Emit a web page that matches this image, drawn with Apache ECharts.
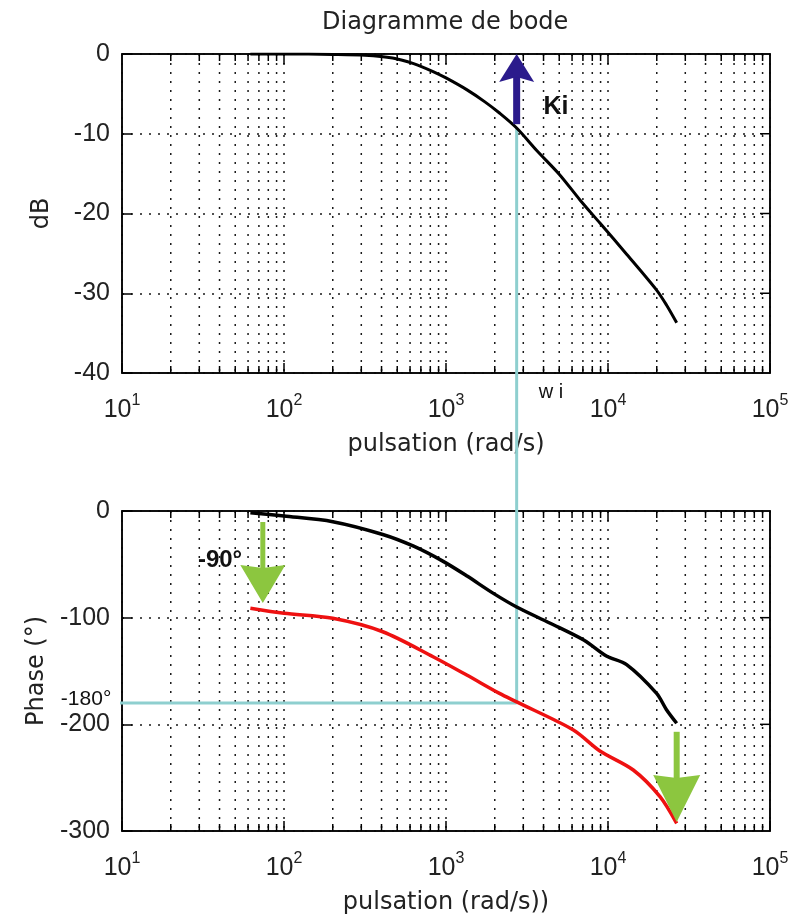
<!DOCTYPE html>
<html><head><meta charset="utf-8">
<script src="https://cdn.jsdelivr.net/npm/echarts@6/dist/echarts.min.js"></script>
<style>html,body{margin:0;padding:0;background:#fff}#c{width:792px;height:918px}</style>
</head><body><div id="c"></div>
<script>
// ---------- data ----------
const freqMag = [62, 100, 200, 316, 468, 631, 832, 1000, 1349, 1738, 2138, 2730, 3631, 5012, 6714, 8913, 13030, 19953, 23010, 26546];
const magDb   = [0, 0, -0.05, -0.15, -0.5, -1.2, -2.2, -3.0, -4.5, -6.0, -7.4, -9.28, -12.1, -15.1, -18.3, -21.2, -25.1, -29.6, -31.5, -33.7];

const freqPhBlack = [62, 100, 200, 407, 631, 955, 1349, 1950, 2730, 4365, 7079, 9772, 13030, 19953, 22909, 26546];
const phaseBlack  = [-1.6, -4.7, -10, -22, -33, -47, -61, -77, -90, -105, -121, -136, -144, -171, -186, -199];

const freqPhRed = [62, 100, 200, 407, 832, 1343, 2138, 2730, 6110, 8913, 14320, 20940, 26546];
const phaseRed  = [-91.2, -95.9, -100.6, -113.2, -136.6, -153.8, -171, -179, -205.3, -225, -242.8, -267.8, -292.8];

const xTickExponents = [1, 2, 3, 4, 5];
const magTicks = [0, -10, -20, -30, -40];
const phaseTicks = [0, -100, -200, -300];
const minorMultipliers = [2, 3, 4, 5, 6, 7, 8, 9];
const decades = [10, 100, 1000, 10000];

// annotation values
const wi = 2730;          // rad/s
const kiDb = -9.3;        // magnitude at wi
const phaseAtWi = -180;
const kiArrow = [[wi, -8.8, 0]];                       // [x, from, to]
const phaseArrows = [[74, -10.3, -86.3], [26546, -207, -291.6]];
const annotTopPos = [[4775, -6.65], [4446, -42.5]];
const annotTopText = ['Ki', 'w i'];
const annotBotPos = [[40.3, -45.9], [6.0, -176.3]];
const annotBotText = ['-90°', '-180°'];

// ---------- layout / style ----------
const FONT = 'Liberation Sans, Arial, sans-serif';
const FONT2 = 'DejaVu Sans, sans-serif';
const TXT = '#222';
const gTop = {left: 122, top: 54, width: 648, height: 319};
const gBot = {left: 122, top: 511, width: 648, height: 320};
const magMin = -40, magMax = 0, phMin = -300, phMax = 0;
const xMin = 10, xMax = 100000;
const DOT = [2, 7];
const GRIDC = '#1a1a1a';
const GRIDW = 1.5;
const CYAN = '#8ecfcf';
const arrowStylesTop = [{color: '#2b1b8c', L: 28, W: 35, n: 5, s: 7}];
const arrowStylesBot = [{color: '#8cc63f', L: 38, W: 45, n: 3, s: 5}, {color: '#8cc63f', L: 47, W: 47, n: 3, s: 6}];
const annotTopStyle = [{size: 25, weight: 'bold'}, {size: 20, weight: 'normal'}];
const annotBotStyle = [{size: 24, weight: 'bold'}, {size: 21, weight: 'normal'}];

const minorVals = [];
decades.forEach(d => minorMultipliers.forEach(m => minorVals.push(m * d)));
const innerMajorX = xTickExponents.slice(1, -1).map(e => Math.pow(10, e));

// extension of the vertical cyan line down to the -180 level of the lower plot (in dB units of top plot)
const pxTo180 = (gBot.top + (phMax - phaseAtWi) / (phMax - phMin) * gBot.height) - gTop.top;
const extDb = magMax - pxTo180 / gTop.height * (magMax - magMin);

function minorGrid(yMin, yMax) {
  return function (params, api) {
    const v = api.value(0);
    const pT = api.coord([v, yMax]);
    const pB = api.coord([v, yMin]);
    return {type: 'group', children: [
      {type: 'line', shape: {x1: pT[0], y1: pT[1], x2: pB[0], y2: pB[1]}, style: {stroke: GRIDC, lineWidth: GRIDW, lineDash: DOT}},
      {type: 'line', shape: {x1: pB[0], y1: pB[1], x2: pB[0], y2: pB[1] - 7}, style: {stroke: '#000', lineWidth: 1.5}},
      {type: 'line', shape: {x1: pT[0], y1: pT[1], x2: pT[0], y2: pT[1] + 7}, style: {stroke: '#000', lineWidth: 1.5}}
    ]};
  };
}
// major ticks on the top and right frame edges (kind 0: x tick at top, kind 1: y tick at right)
function frameTicks(yMax) {
  return function (params, api) {
    const kind = api.value(0), v = api.value(1);
    if (kind === 0) {
      const p = api.coord([v, yMax]);
      return {type: 'line', shape: {x1: p[0], y1: p[1], x2: p[0], y2: p[1] + 10}, style: {stroke: '#000', lineWidth: 1.5}};
    }
    const p = api.coord([xMax, v]);
    return {type: 'line', shape: {x1: p[0], y1: p[1], x2: p[0] - 10, y2: p[1]}, style: {stroke: '#000', lineWidth: 1.5}};
  };
}
function arrows(styles) {
  return function (params, api) {
    const st = styles[params.dataIndex];
    const x = api.value(0);
    const p0 = api.coord([x, api.value(1)]);
    const p1 = api.coord([x, api.value(2)]);
    const d = p1[1] > p0[1] ? 1 : -1;
    const back = p1[1] - d * st.L;
    const notch = p1[1] - d * (st.L - st.n);
    return {type: 'group', children: [
      {type: 'line', shape: {x1: p0[0], y1: p0[1], x2: p1[0], y2: notch + d * 1}, style: {stroke: st.color, lineWidth: st.s}},
      {type: 'polygon', shape: {points: [[p1[0], p1[1]], [p1[0] - st.W / 2, back], [p1[0], notch], [p1[0] + st.W / 2, back]]}, style: {fill: st.color}}
    ]};
  };
}
function textMarks(texts, styles) {
  return function (params, api) {
    const p = api.coord([api.value(0), api.value(1)]);
    const st = styles[params.dataIndex];
    return {type: 'text', x: p[0], y: p[1],
      style: {text: texts[params.dataIndex], fontSize: st.size, fontWeight: st.weight, fontFamily: FONT,
        fill: '#111', align: 'center', verticalAlign: 'middle'}};
  };
}

const xLabel = {
  fontFamily: FONT, color: TXT, margin: 20,
  formatter: v => '{b|10}{s|' + Math.round(Math.log10(v)) + '}',
  rich: {b: {fontSize: 25, fontFamily: FONT, color: TXT}, s: {fontSize: 16, fontFamily: FONT, color: TXT, padding: [0, 0, 18, 0]}}
};
function xAx(gi, pos, name, gap) {
  const base = {gridIndex: gi, type: 'log', logBase: 10, min: xMin, max: xMax, position: pos,
    axisLine: {show: true, onZero: false, lineStyle: {color: '#000', width: 1.5}},
    minorTick: {show: false}};
  if (pos === 'bottom') {
    Object.assign(base, {name: name, nameLocation: 'middle', nameGap: gap,
      nameTextStyle: {fontSize: 24, fontFamily: FONT2, color: TXT},
      axisTick: {show: true, inside: true, length: 10, lineStyle: {color: '#000', width: 1.5}},
      axisLabel: xLabel,
      splitLine: {show: true, lineStyle: {color: GRIDC, width: GRIDW, type: DOT}}});
  } else {
    Object.assign(base, {axisTick: {show: false}, axisLabel: {show: false}, splitLine: {show: false}});
  }
  return base;
}
function yAx(gi, pos, min, max, interval, name, gap) {
  const base = {gridIndex: gi, type: 'value', min: min, max: max, interval: interval, position: pos,
    axisLine: {show: true, onZero: false, lineStyle: {color: '#000', width: 1.5}}};
  if (pos === 'left') {
    Object.assign(base, {name: name, nameLocation: 'middle', nameGap: gap,
      nameTextStyle: {fontSize: 24, fontFamily: FONT2, color: TXT},
      axisTick: {show: true, inside: true, length: 10, lineStyle: {color: '#000', width: 1.5}},
      axisLabel: {fontSize: 25, fontFamily: FONT, color: TXT, margin: 12},
      splitLine: {show: true, lineStyle: {color: GRIDC, width: GRIDW, type: DOT}}});
  } else {
    Object.assign(base, {axisTick: {show: false}, axisLabel: {show: false}, splitLine: {show: false}});
  }
  return base;
}

const option = {
  animation: false,
  backgroundColor: '#fff',
  title: {text: 'Diagramme de bode', left: 317, top: 6,
    textStyle: {fontSize: 24, fontWeight: 'normal', color: TXT, fontFamily: FONT2}},
  grid: [
    Object.assign({show: true, borderColor: '#000', borderWidth: 1.5, backgroundColor: '#fff', containLabel: false}, gTop),
    Object.assign({show: true, borderColor: '#000', borderWidth: 1.5, backgroundColor: '#fff', containLabel: false}, gBot)
  ],
  xAxis: [xAx(0, 'bottom', 'pulsation (rad/s)', 60), xAx(0, 'top'), xAx(1, 'bottom', 'pulsation (rad/s))', 60), xAx(1, 'top')],
  yAxis: [yAx(0, 'left', magMin, magMax, 10, 'dB', 68), yAx(0, 'right', magMin, magMax, 10),
          yAx(1, 'left', phMin, phMax, 100, 'Phase (°)', 68), yAx(1, 'right', phMin, phMax, 100)],
  series: [
    {type: 'custom', xAxisIndex: 0, yAxisIndex: 0, silent: true, z: 1, encode: {x: 0},
     data: minorVals.map(v => [v]), renderItem: minorGrid(magMin, magMax)},
    {type: 'custom', xAxisIndex: 2, yAxisIndex: 2, silent: true, z: 1, encode: {x: 0},
     data: minorVals.map(v => [v]), renderItem: minorGrid(phMin, phMax)},
    {type: 'custom', xAxisIndex: 0, yAxisIndex: 0, silent: true, z: 2, encode: {x: 1},
     data: innerMajorX.map(v => [0, v]).concat(magTicks.slice(1, -1).map(v => [1, v])), renderItem: frameTicks(magMax)},
    {type: 'custom', xAxisIndex: 2, yAxisIndex: 2, silent: true, z: 2, encode: {x: 1},
     data: innerMajorX.map(v => [0, v]).concat(phaseTicks.slice(1, -1).map(v => [1, v])), renderItem: frameTicks(phMax)},
    {type: 'line', xAxisIndex: 0, yAxisIndex: 0, symbol: 'none', clip: false, z: 3,
     lineStyle: {color: CYAN, width: 3}, data: [[wi, kiDb], [wi, extDb]]},
    {type: 'line', xAxisIndex: 2, yAxisIndex: 2, symbol: 'none', clip: false, z: 3,
     lineStyle: {color: CYAN, width: 3}, data: [[wi, phaseAtWi], [8.5, phaseAtWi]]},
    {type: 'line', xAxisIndex: 0, yAxisIndex: 0, symbol: 'none', smooth: 0.3, z: 5,
     lineStyle: {color: '#000', width: 3}, data: freqMag.map((f, i) => [f, magDb[i]])},
    {type: 'line', xAxisIndex: 2, yAxisIndex: 2, symbol: 'none', smooth: 0.3, z: 5,
     lineStyle: {color: '#000', width: 3.5}, data: freqPhBlack.map((f, i) => [f, phaseBlack[i]])},
    {type: 'line', xAxisIndex: 2, yAxisIndex: 2, symbol: 'none', smooth: 0.3, z: 5,
     lineStyle: {color: '#ee1111', width: 3.5}, data: freqPhRed.map((f, i) => [f, phaseRed[i]])},
    {type: 'custom', xAxisIndex: 0, yAxisIndex: 0, silent: true, z: 6, encode: {x: 0, y: [1, 2]},
     data: kiArrow, renderItem: arrows(arrowStylesTop)},
    {type: 'custom', xAxisIndex: 2, yAxisIndex: 2, silent: true, z: 6, encode: {x: 0, y: [1, 2]},
     data: phaseArrows, renderItem: arrows(arrowStylesBot)},
    {type: 'custom', xAxisIndex: 0, yAxisIndex: 0, silent: true, z: 10, clip: false, encode: {x: 0, y: 1},
     data: annotTopPos, renderItem: textMarks(annotTopText, annotTopStyle)},
    {type: 'custom', xAxisIndex: 2, yAxisIndex: 2, silent: true, z: 10, clip: false, encode: {x: 0, y: 1},
     data: annotBotPos, renderItem: textMarks(annotBotText, annotBotStyle)}
  ]
};
const chart = echarts.init(document.getElementById('c'), null, {renderer: 'canvas'});
chart.setOption(option);
</script>
</body></html>
